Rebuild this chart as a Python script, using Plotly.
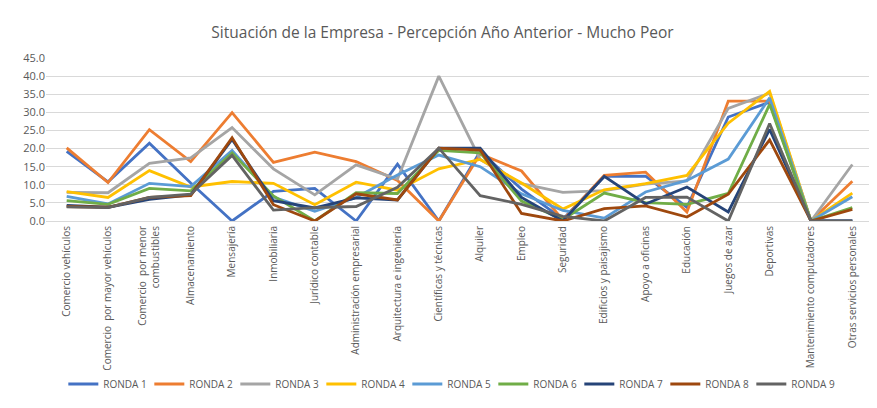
import plotly.graph_objects as go

categories = [
    "Comercio vehículos", "Comercio  por mayor vehículos", "Comercio  por menor<br>combustibles",
    "Almacenamiento", "Mensajería", "Inmobiliaria", "Jurídico contable",
    "Administración empresarial", "Arquitectura e ingeniería", "Científicas y técnicas",
    "Alquiler", "Empleo", "Seguridad", "Edificios y paisajismo", "Apoyo a oficinas",
    "Educación", "Juegos de azar", "Deportivas", "Mantenimiento computadores",
    "Otras servicios personales",
]

ronda1 = [19.2, 10.8, 21.5, 10.5, 0.0, 8.2, 9.0, 0.0, 15.7, 0.0, 19.2, 8.8, 0.5, 12.3, 12.4, 3.8, 28.7, 32.8, 0.0, 0.0]
ronda2 = [20.2, 10.6, 25.2, 16.4, 29.9, 16.2, 19.0, 16.4, 11.2, 0.0, 18.5, 13.8, 0.3, 12.6, 13.5, 2.5, 33.1, 33.1, 0.0, 11.0]
ronda3 = [7.9, 7.8, 15.9, 17.4, 25.8, 14.4, 7.2, 15.5, 11.6, 40.0, 17.0, 10.3, 7.9, 8.4, 10.2, 11.1, 31.1, 35.3, 0.0, 15.6]
ronda4 = [8.1, 6.5, 13.9, 9.4, 10.9, 10.4, 4.5, 10.7, 8.5, 14.4, 17.0, 10.5, 3.3, 8.6, 10.3, 12.6, 27.0, 35.8, 0.0, 7.7]
ronda5 = [6.8, 4.7, 10.4, 9.5, 19.5, 6.6, 2.7, 6.5, 12.7, 18.2, 15.0, 7.5, 2.9, 0.8, 8.0, 11.2, 17.1, 34.0, 0.0, 6.7]
ronda6 = [5.6, 4.6, 9.0, 8.3, 18.8, 6.9, 0.0, 7.8, 7.6, 19.5, 18.8, 5.5, 0.4, 7.7, 5.1, 4.6, 7.6, 32.2, 0.0, 3.7]
ronda7 = [4.3, 3.8, 6.0, 7.2, 22.5, 5.6, 3.6, 6.4, 5.8, 20.1, 20.1, 6.5, 0.0, 12.3, 4.7, 9.4, 2.5, 25.3, 0.0, 0.0]
ronda8 = [4.0, 3.8, 6.5, 7.0, 23.0, 4.5, 0.0, 7.5, 5.8, 20.1, 19.6, 2.1, 0.0, 3.4, 4.2, 1.1, 7.4, 22.4, 0.0, 3.2]
ronda9 = [3.9, 3.7, 6.5, 7.4, 18.1, 3.0, 3.7, 4.0, 9.3, 20.1, 7.0, 4.6, 1.3, 0.0, 6.5, 6.6, 0.0, 26.9, 0.0, 0.0]

series_names = ["RONDA 1", "RONDA 2", "RONDA 3", "RONDA 4", "RONDA 5",
                "RONDA 6", "RONDA 7", "RONDA 8", "RONDA 9"]
series_values = [ronda1, ronda2, ronda3, ronda4, ronda5, ronda6, ronda7, ronda8, ronda9]
colors = ["#4472C4", "#ED7D31", "#A5A5A5", "#FFC000", "#5B9BD5",
          "#70AD47", "#264478", "#9E480E", "#636363"]

y_ticks = [0, 5, 10, 15, 20, 25, 30, 35, 40, 45]

FONT = "Open Sans, Liberation Sans, sans-serif"
TXT = "#595959"

fig = go.Figure()
for name, vals, col in zip(series_names, series_values, colors):
    fig.add_trace(go.Scatter(
        x=categories, y=vals, name=name, mode="lines",
        line=dict(color=col, width=2.8),
    ))

# The page body adds an 8px margin, so the figure is sized to fill the rest of the window.
fig.update_layout(
    width=869, height=400,
    margin=dict(l=38, r=4, t=50, b=187, autoexpand=False),
    paper_bgcolor="white", plot_bgcolor="white",
    font=dict(family=FONT, color=TXT, size=11),
    title=dict(text="Situación de la Empresa - Percepción Año Anterior - Mucho Peor",
               x=0.5, xanchor="center", y=0.9375, yanchor="middle",
               font=dict(family=FONT, size=15.5, color=TXT)),
    showlegend=True,
    legend=dict(orientation="h", xref="container", x=0.509, xanchor="center",
                y=-1.0, yanchor="middle",
                font=dict(family=FONT, size=10, color=TXT),
                traceorder="normal", itemwidth=30,
                entrywidth=41, entrywidthmode="pixels"),
)
fig.update_xaxes(
    type="category", tickangle=-90, showgrid=False, automargin=False,
    range=[-0.5, len(categories) - 0.5],
    showline=True, linecolor="#D9D9D9", linewidth=1,
    ticks="", tickfont=dict(family=FONT, size=10, color=TXT),
)
fig.update_yaxes(
    range=[0, 45], tickvals=y_ticks, tickformat=".1f", automargin=False,
    showgrid=True, gridcolor="#D9D9D9", gridwidth=1,
    zeroline=False, showline=False, ticks="",
    tickfont=dict(family=FONT, size=11, color=TXT),
)

fig.write_html("out.html")
